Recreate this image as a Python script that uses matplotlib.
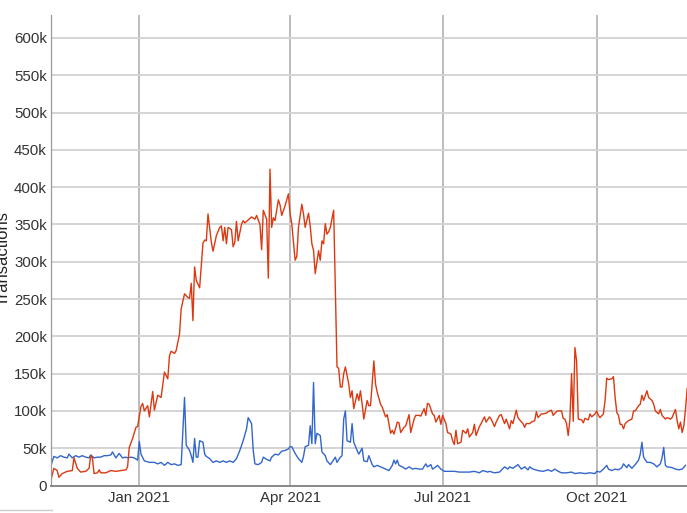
import pandas as pd
import matplotlib.pyplot as plt
from matplotlib.lines import Line2D

# days since 2020-11-09, values in thousands of transactions
red_day = [0, 2, 4, 5, 7, 10, 13, 14, 16, 18, 21, 23, 24, 25, 26, 28, 29, 30, 33, 36, 39, 42, 45, 46, 47,
           49, 51, 52, 54, 55, 56, 58, 59, 61, 62, 64, 66, 67, 68, 70, 71, 72, 74, 75, 77, 78, 80, 82, 83,
           84, 85, 86, 87, 89, 91, 92, 93, 94, 96, 97, 99, 101, 102, 103, 104, 105, 106, 108, 109, 110,
           111, 112, 114, 115, 116, 118, 120, 122, 123, 125, 126, 127, 129, 130, 131, 132, 133, 134, 136,
           137, 138, 140, 142, 143, 144, 146, 147, 148, 150, 151, 152, 154, 155, 156, 157, 158, 160, 161,
           162, 163, 164, 165, 166, 167, 169, 171, 172, 173, 174, 175, 176, 178, 179, 180, 181, 183, 184,
           185, 186, 187, 189, 190, 191, 193, 194, 195, 197, 198, 200, 201, 203, 204, 205, 207, 208, 209,
           211, 212, 214, 215, 217, 218, 220, 221, 223, 224, 225, 226, 228, 229, 230, 232, 233, 234, 236,
           237, 239, 240, 241, 242, 243, 245, 246, 248, 249, 250, 252, 253, 254, 256, 257, 259, 260, 262,
           263, 265, 266, 268, 269, 271, 272, 274, 275, 276, 278, 279, 280, 282, 283, 284, 286, 287, 289,
           290, 291, 293, 294, 296, 297, 299, 300, 302, 303, 305, 306, 307, 308, 309, 310, 311, 312, 313,
           314, 315, 317, 318, 319, 321, 322, 323, 325, 326, 327, 328, 330, 331, 332, 333, 335, 336, 337,
           338, 339, 340, 341, 342, 343, 344, 345, 347, 348, 349, 351, 352, 353, 354, 356, 357, 358, 359,
           360, 361, 363, 364, 365, 367, 368, 370, 371, 373, 374, 375, 376, 377, 378, 379, 380]
red_val = [5, 23, 20, 11, 16, 19, 20, 37, 23, 18, 19, 23, 40, 37, 16, 17, 21, 17, 17, 20, 19, 20, 21, 25, 51,
           63, 78, 79, 106, 110, 100, 107, 92, 126, 101, 121, 118, 135, 152, 143, 174, 180, 177, 181, 203,
           237, 257, 252, 251, 271, 221, 293, 275, 265, 325, 329, 328, 364, 326, 314, 335, 346, 348, 328,
           346, 324, 346, 343, 320, 326, 354, 328, 350, 355, 352, 356, 360, 357, 362, 350, 316, 369, 357,
           278, 424, 346, 359, 355, 383, 376, 362, 375, 391, 364, 351, 302, 307, 346, 377, 364, 346, 365,
           348, 324, 315, 284, 315, 302, 328, 324, 351, 337, 340, 346, 369, 159, 157, 132, 132, 150, 159,
           136, 118, 127, 103, 123, 114, 127, 109, 89, 114, 107, 107, 167, 136, 125, 109, 105, 92, 95, 70,
           74, 69, 85, 84, 71, 78, 80, 95, 71, 89, 94, 94, 93, 103, 94, 110, 109, 96, 94, 85, 94, 82, 94,
           83, 71, 69, 60, 55, 74, 56, 58, 74, 70, 76, 65, 71, 82, 67, 79, 83, 92, 85, 92, 89, 79, 85, 94,
           95, 83, 89, 76, 87, 83, 101, 91, 88, 83, 78, 83, 83, 85, 87, 99, 91, 96, 96, 97, 99, 101, 94, 99,
           100, 100, 90, 89, 83, 67, 88, 150, 86, 185, 167, 89, 88, 84, 90, 88, 96, 92, 96, 100, 94, 91, 96,
           114, 144, 142, 143, 146, 118, 98, 94, 82, 82, 76, 83, 85, 87, 89, 100, 100, 107, 109, 121, 114,
           127, 118, 116, 114, 109, 100, 96, 102, 94, 89, 91, 89, 91, 102, 87, 76, 85, 71, 80, 102, 130]

blue_day = [0, 2, 4, 6, 8, 10, 11, 13, 15, 17, 19, 21, 23, 24, 26, 28, 30, 32, 34, 36, 37, 39, 40, 41, 43,
            45, 46, 48, 50, 52, 53, 54, 56, 59, 62, 64, 66, 68, 70, 72, 74, 76, 78, 80, 81, 83, 84, 85, 86,
            87, 88, 89, 91, 92, 93, 95, 97, 99, 101, 103, 105, 107, 109, 111, 113, 115, 117, 118, 120, 121,
            122, 124, 126, 127, 129, 131, 132, 134, 136, 138, 140, 142, 143, 144, 146, 148, 150, 151, 152,
            154, 155, 156, 157, 158, 159, 161, 162, 164, 165, 167, 168, 170, 171, 173, 174, 175, 176, 177,
            179, 180, 181, 183, 184, 186, 187, 189, 190, 192, 193, 195, 197, 200, 202, 204, 205, 206, 207,
            208, 210, 212, 214, 216, 218, 220, 222, 224, 225, 227, 228, 230, 231, 233, 235, 238, 241, 244,
            247, 250, 253, 256, 258, 261, 262, 265, 268, 271, 273, 274, 276, 279, 281, 283, 285, 286, 288,
            291, 294, 297, 299, 301, 303, 305, 308, 311, 313, 316, 319, 322, 325, 326, 328, 330, 332, 333,
            335, 337, 339, 341, 342, 344, 345, 347, 349, 351, 352, 353, 354, 356, 358, 360, 362, 364, 365,
            366, 367, 368, 371, 373, 375, 377, 379]
blue_val = [25, 39, 37, 40, 38, 37, 42, 37, 40, 38, 40, 38, 37, 41, 37, 38, 38, 40, 40, 41, 45, 37, 40, 43, 37,
            38, 37, 38, 37, 34, 59, 42, 33, 31, 31, 29, 31, 27, 31, 28, 29, 27, 28, 118, 54, 47, 40, 31, 63,
            38, 38, 60, 58, 42, 39, 36, 31, 33, 31, 33, 31, 33, 31, 36, 47, 60, 76, 91, 83, 47,
            29, 28, 31, 38, 35, 33, 38, 42, 41, 46, 47, 49, 52, 52, 43, 36, 31, 39, 52,
            54, 80, 56, 138, 56, 70, 67, 45, 40, 33, 28, 31, 38, 31, 38, 40, 89, 100, 60,
            58, 83, 58, 47, 42, 50, 33, 32, 40, 28, 25, 27, 25, 22, 20, 27, 34, 29, 34,
            27, 25, 22, 25, 22, 23, 22, 22, 29, 25, 28, 22, 25, 27, 22, 19, 19, 19, 18,
            18, 18, 19, 17, 20, 18, 19, 17, 18, 25, 22, 25, 23, 28, 22, 25, 21, 25, 22,
            20, 19, 21, 19, 22, 19, 17, 17, 18, 16, 17, 16, 17, 16, 19, 18, 22, 27, 22,
            20, 22, 21, 24, 29, 24, 28, 23, 28, 34, 42, 58, 38, 31, 31, 29, 25, 29, 37,
            51, 27, 25, 24, 22, 21, 22, 27]

month_ticks = ['2021-01-01', '2021-04-01', '2021-07-01', '2021-10-01']
month_labels = ['Jan 2021', 'Apr 2021', 'Jul 2021', 'Oct 2021']

plt.rcParams['font.family'] = ['Liberation Sans', 'DejaVu Sans']

start = pd.Timestamp('2020-11-09')
red_x = start + pd.to_timedelta(red_day, unit='D')
blue_x = start + pd.to_timedelta(blue_day, unit='D')

fig = plt.figure(figsize=(6.87, 5.13), dpi=100)
ax = fig.add_axes([51 / 687, 27.5 / 513, 636 / 687, 470.5 / 513])

ax.plot(blue_x, [v * 1000 for v in blue_val], color='#3366cc', lw=1.0)
ax.plot(red_x, [v * 1000 for v in red_val], color='#dc3912', lw=1.0)

ax.set_xlim(start + pd.Timedelta(hours=7), start + pd.Timedelta(days=379.9))
ax.set_ylim(0, 630700)

yt = list(range(0, 600001, 50000))
ax.set_yticks(yt)
ax.set_yticklabels(['0' if v == 0 else f'{v // 1000}k' for v in yt])
ax.set_xticks(pd.to_datetime(month_ticks))
ax.set_xticklabels(month_labels)

ax.yaxis.grid(True, color='#d4d4d4', lw=1.4)
ax.xaxis.grid(True, color='#b0b0b0', lw=1.2)
ax.set_axisbelow(True)

for s in ['top', 'right']:
    ax.spines[s].set_visible(False)
ax.spines['left'].set_color('#999999')
ax.spines['left'].set_linewidth(0.9)
ax.spines['bottom'].set_color('#888888')
ax.spines['bottom'].set_linewidth(1.4)

ax.tick_params(axis='both', length=0, labelsize=10.8, labelcolor='#333333')
ax.tick_params(axis='y', pad=3)
ax.tick_params(axis='x', pad=4)

fig.text(10.5 / 687, 1 - 258.5 / 513, 'Transactions', rotation=90, ha='right', va='center',
         fontsize=12, color='#222222')

fig.add_artist(Line2D([0, 52 / 687], [1 - 510 / 513] * 2, color='#cccccc', lw=1))

fig.savefig('out.png', dpi=100)
